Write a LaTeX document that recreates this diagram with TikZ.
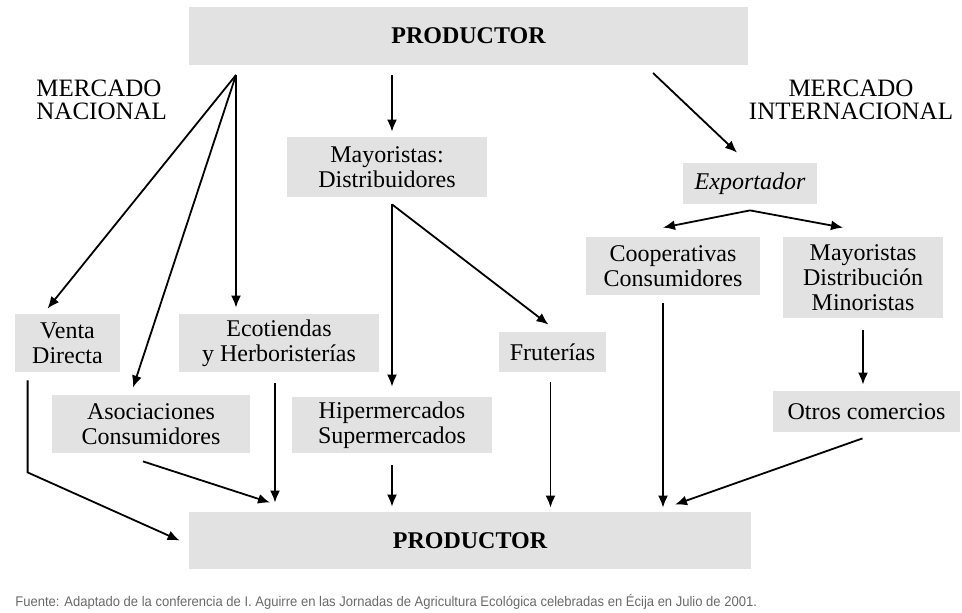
\documentclass[tikz,border=0pt]{standalone}
\usepackage{fontspec}
\setmainfont{Liberation Serif}
\newfontfamily\notefont{Liberation Sans}
\usetikzlibrary{positioning,arrows.meta}
\definecolor{boxgray}{RGB}{226,226,226}
\definecolor{notegray}{RGB}{105,105,105}

\begin{document}
\begin{tikzpicture}[x=.5pt,y=-.5pt,align=center,font=\fontsize{12}{12.5}\selectfont,
    box/.style={fill=boxgray,inner sep=0pt},
    flow/.style={line width=.9pt,-{Latex[length=6pt,width=5pt]}},
    mkt/.style={font=\fontsize{12.5}{11.5}\selectfont,inner sep=0pt}]
  \useasboundingbox (0,0) rectangle (962,613);

  %producer top and bottom
  \node[box,minimum width=279.5pt,minimum height=29pt,font=\fontsize{12}{12}\selectfont\bfseries] (prod) at (468.5,36) {PRODUCTOR};
  \node[box,minimum width=281pt,minimum height=28.5pt,font=\fontsize{12}{12}\selectfont\bfseries] (prod2) at (470,540.5) {PRODUCTOR};

  %market labels
  \node[mkt,anchor=north west,align=left] (nac) at (36,80) {MERCADO\\NACIONAL};
  \node[mkt,anchor=north] (int) at (851,80) {MERCADO\\INTERNACIONAL};

  %channels
  \node[box,minimum width=100pt,minimum height=30pt] (may) at (387,167) {Mayoristas:\\Distribuidores};
  \node[box,minimum width=67pt,minimum height=20.5pt,font=\fontsize{12}{12.5}\selectfont\itshape] (exp) at (750,183.5) {Exportador};
  \node[box,minimum width=87pt,minimum height=29pt] (coop) at (673,266) {Cooperativas\\Consumidores};
  \node[box,minimum width=80pt,minimum height=40.5pt] (mayd) at (863,277.5) {Mayoristas\\Distribución\\Minoristas};
  \node[box,minimum width=52.5pt,minimum height=29pt] (venta) at (67.5,343) {Venta\\Directa};
  \node[box,minimum width=100pt,minimum height=29pt] (eco) at (279,343) {Ecotiendas\\y Herboristerías};
  \node[box,minimum width=99pt,minimum height=29pt] (aso) at (151,424) {Asociaciones\\Consumidores};
  \node[box,minimum width=100pt,minimum height=28pt] (hiper) at (392,425) {Hipermercados\\Supermercados};
  \node[box,minimum width=53.5pt,minimum height=20pt] (fru) at (552.5,352) {Fruterías};
  \node[box,minimum width=93.5pt,minimum height=20.5pt] (otros) at (866.5,411.5) {Otros comercios};

  %from producer
  \coordinate (nacional) at (236,75);
  \coordinate (internacional) at (653,73);
  \coordinate (mayout) at ([yshift=-3.5pt]may.south -| hiper.north);
  \draw[flow] (nacional) -- ([xshift=-10pt,yshift=2.5pt]venta.north);
  \draw[flow] (nacional) -- ([xshift=-9pt,yshift=3.5pt]aso.north);
  \draw[flow] (nacional) -- ([yshift=3pt]nacional |- eco.north);
  \draw[flow] ([yshift=-5pt]prod.south -| mayout) -- ([yshift=2.5pt]may.north -| mayout);
  \draw[flow] (internacional) -- ([xshift=-6.5pt,yshift=5pt]exp.north);

  %wholesale and export
  \draw[flow] (mayout) -- ([yshift=5pt]hiper.north);
  \draw[flow] (mayout) -- ([xshift=-2pt,yshift=3.5pt]fru.north);
  \draw[flow] ([yshift=-3pt]exp.south) -- ([xshift=-5pt,yshift=4.5pt]coop.north);
  \draw[flow] ([yshift=-3pt]exp.south) -- ([xshift=-10pt,yshift=4.5pt]mayd.north);
  \draw[flow] ([yshift=-6pt]mayd.south) -- ([yshift=3pt]mayd.south |- otros.north);

  %to consumer side
  \draw[flow] ([xshift=6.5pt,yshift=-4pt]venta.south west) -- ++(0,92) -- ([xshift=-4.5pt]prod2.west);
  \draw[flow] ([xshift=-4pt,yshift=-4pt]aso.south) -- ([xshift=-100pt,yshift=4.5pt]prod2.north);
  \draw[flow] ([xshift=-2pt,yshift=-5.5pt]eco.south) -- ([xshift=-97.5pt,yshift=4.5pt]prod2.north);
  \draw[flow] ([yshift=-6pt]hiper.south) -- ([yshift=2.5pt]hiper.south |- prod2.north);
  \draw[flow] ([xshift=-1pt,yshift=-5pt]fru.south) -- ([xshift=-1pt,yshift=2pt]fru.south |- prod2.north);
  \draw[flow] ([xshift=-5pt,yshift=-4pt]coop.south) -- ([xshift=-5pt,yshift=2pt]coop.south |- prod2.north);
  \draw[flow] ([xshift=-2pt,yshift=-3pt]otros.south) -- ([xshift=102.5pt,yshift=3.5pt]prod2.north);

  %source note
  \node[anchor=base west,inner sep=0pt,font=\notefont\fontsize{7}{7}\selectfont,text=notegray] (fuente) at (15,606) {\scalebox{0.93}[1]{Fuente: Adaptado de la conferencia de I. Aguirre en las Jornadas de Agricultura Ecológica celebradas en Écija en Julio de 2001.}};
\end{tikzpicture}
\end{document}
